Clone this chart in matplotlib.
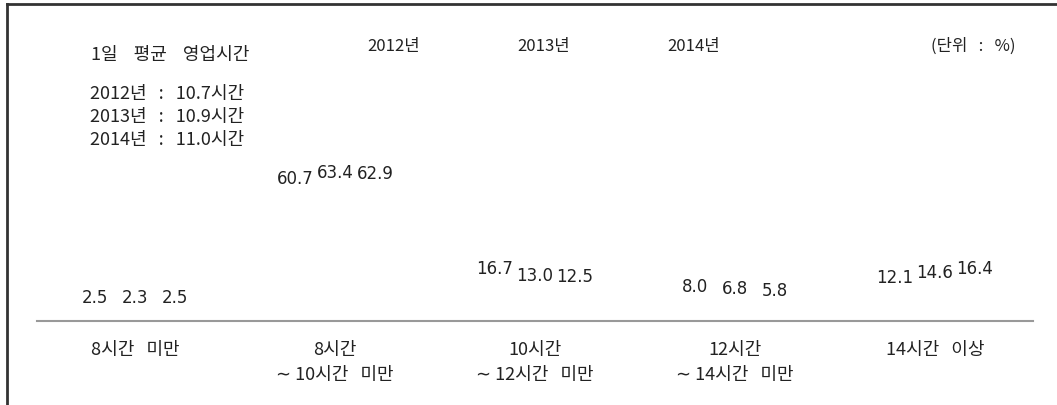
import numpy as np
import matplotlib.pyplot as plt
from matplotlib.lines import Line2D

plt.rcParams['font.family'] = ['DejaVu Sans', 'Noto Sans CJK KR']
kr = ['Noto Sans CJK KR', 'DejaVu Sans']

categories = ['8시간   미만', '8시간\n∼ 10시간   미만', '10시간\n∼ 12시간   미만',
              '12시간\n∼ 14시간   미만', '14시간   이상']
years = ['2012년', '2013년', '2014년']
v2012 = [2.5, 60.7, 16.7, 8.0, 12.1]
v2013 = [2.3, 63.4, 13.0, 6.8, 14.6]
v2014 = [2.5, 62.9, 12.5, 5.8, 16.4]
avg_hours = ['10.7', '10.9', '11.0']

W, H = 1057, 406
fig = plt.figure(figsize=(W / 100, H / 100), dpi=100)
ax = fig.add_axes([37 / W, (H - 322) / H, (1033 - 37) / W, 302 / H])

x = np.arange(len(categories))
width = 0.2
txt = '#222222'
for i, vals in enumerate([v2012, v2013, v2014]):
    bars = ax.bar(x + (i - 1) * width, vals, width, color='none')
    ax.bar_label(bars, labels=['%.1f' % v for v in vals], padding=7.3,
                 fontsize=12, color=txt)

ax.set_xlim(-0.49, 4.49)
ax.set_ylim(0, 147.7)
ax.set_xticks(x)
ax.set_xticklabels(categories, fontsize=13, color=txt, linespacing=1.49,
                   va='top', family=kr)
ax.tick_params(axis='x', length=0, pad=14)
ax.set_yticks([])
for s in ['top', 'left', 'right']:
    ax.spines[s].set_visible(False)
ax.spines['bottom'].set_color('#999999')
ax.spines['bottom'].set_linewidth(1.5)

# frame lines of the original box (left and top)
fig.add_artist(Line2D([7 / W, 7 / W], [0, 1 - 5 / H], transform=fig.transFigure,
                      color='#333333', lw=2))
fig.add_artist(Line2D([7 / W, 1], [1 - 5 / H, 1 - 5 / H], transform=fig.transFigure,
                      color='#333333', lw=2))

def fy(y):
    return 1 - y / H

fig.text(91 / W, fy(55), '1일    평균    영업시간', fontsize=13, color=txt,
         va='center', family=kr)
for k, (yr, h) in enumerate(zip(years, avg_hours)):
    fig.text(90 / W, fy(94 + 23 * k), '%s   :   %s시간' % (yr, h), fontsize=13,
             color=txt, va='center', family=kr)

for k, yr in enumerate(years):
    fig.text((394 + 150 * k) / W, fy(46), yr, fontsize=12, color=txt,
             ha='center', va='center', family=kr)
fig.text(973 / W, fy(46), '(단위   :   %)', fontsize=12, color=txt,
         ha='center', va='center', family=kr)

fig.savefig('out.png', dpi=100)
